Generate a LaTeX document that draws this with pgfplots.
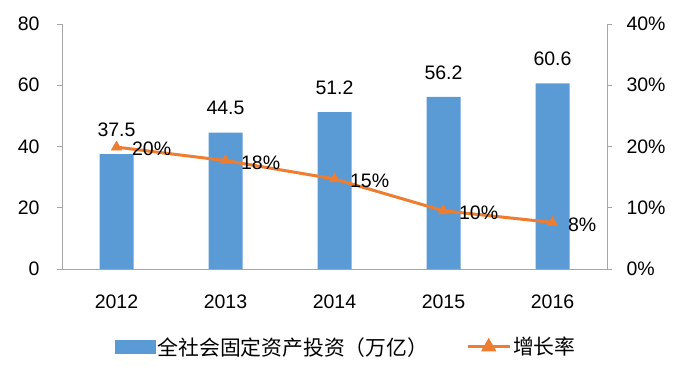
\documentclass[border=0pt]{standalone}
\usepackage{pgfplots}
\pgfplotsset{compat=1.18}
\usepackage{fontspec}
\setmainfont{Liberation Sans}
\newfontfamily\cjk{Noto Sans CJK SC}
\definecolor{barblue}{HTML}{5B9BD5}
\definecolor{lineorange}{HTML}{ED7D31}
\definecolor{axgray}{HTML}{A6A6A6}
\pgfplotsset{
  common/.style={
    scale only axis, width=545pt, height=245pt,
    at={(0pt,0pt)}, anchor=south west,
    xmin=-0.5, xmax=4.5,
    font=\fontsize{19.5}{22}\selectfont,
    /pgf/number format/assume math mode=true,
    tick align=outside, major tick length=5pt,
    clip=false,
  }
}
\begin{document}
\begin{tikzpicture}
\begin{axis}[common,
  ymin=0, ymax=80, ytick={0,20,40,60,80},
  axis y line*=left, axis x line*=bottom,
  x axis line style={-,draw=axgray, line width=0.8pt},
  y axis line style={-,draw=axgray, line width=0.8pt},
  ytick style={draw=axgray, line width=0.8pt},
  xtick={0,1,2,3,4}, xticklabels={2012,2013,2014,2015,2016},
  xtick style={draw=none},
  xticklabel style={yshift=-17pt},
  yticklabel style={xshift=-14pt},
]
\addplot[ybar, bar width=34pt, fill=barblue, draw=none,
  point meta=explicit symbolic, nodes near coords,
  nodes near coords style={anchor=south, yshift=14pt, black}]
  coordinates {(0,37.5)[37.5] (1,44.5)[44.5] (2,51.2)[51.2] (3,56.2)[56.2] (4,60.6)[60.6]};
\end{axis}
\begin{axis}[common,
  ymin=0, ymax=40, ytick={0,10,20,30,40},
  yticklabel={\pgfmathprintnumber{\tick}\%},
  axis y line*=right, axis x line=none,
  y axis line style={-,draw=axgray, line width=0.8pt},
  ytick style={draw=axgray, line width=0.8pt},
  yticklabel style={xshift=11pt},
  legend style={at={(0.522,-0.318)}, anchor=center, draw=none, fill=none,
    legend columns=2, column sep=0pt,
    font=\cjk\fontsize{20.8}{23}\selectfont,
    /tikz/every even column/.append style={column sep=36pt},
    nodes={inner sep=2pt}},
]
\addlegendimage{legend image code/.code={\fill[barblue] (0pt,-6.5pt) rectangle (40pt,6.5pt);}}
\addlegendentry{全社会固定资产投资（万亿）}
\addplot[lineorange, line width=3pt, mark=triangle*, mark size=6pt,
  mark options={solid, fill=lineorange, draw=lineorange, line width=0.5pt},
  point meta=explicit symbolic, nodes near coords,
  nodes near coords style={anchor=west, xshift=12pt, yshift=-2pt, black,
    font=\fontsize{19.5}{22}\selectfont},
  legend image code/.code={\draw[lineorange, line width=3pt] (0pt,0pt) -- (42pt,0pt);
    \fill[lineorange] (21pt,0pt) ++(90:6pt) -- ++(-120:10.4pt) -- ++(0:10.4pt) -- cycle;}]
  coordinates {(0,19.9)[20\%] (1,17.7)[18\%] (2,14.7)[15\%] (3,9.5)[10\%] (4,7.6)[8\%]};
\addlegendentry{增长率}
\end{axis}
\pgfresetboundingbox
\useasboundingbox (-62pt,-110pt) rectangle (622pt,269pt);
\end{tikzpicture}
\end{document}
